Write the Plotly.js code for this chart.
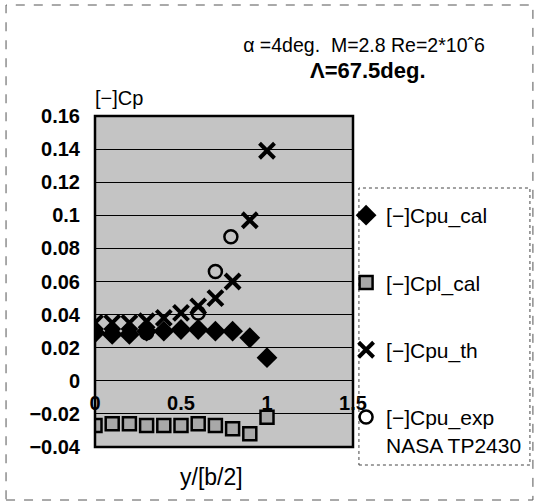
<!DOCTYPE html>
<html>
<head>
<meta charset="utf-8">
<script src="https://cdn.plot.ly/plotly-3.0.1.min.js"></script>
<style>html,body{margin:0;padding:0;background:#fff;}#chart{width:539px;height:503px;}</style>
</head>
<body>
<div id="chart"></div>
<script>
// ---- data ----
const xCal = [0, 0.1, 0.2, 0.3, 0.4, 0.5, 0.6, 0.7, 0.8, 0.9, 1.0];
const cpuCal = [0.029, 0.028, 0.028, 0.030, 0.030, 0.031, 0.031, 0.030, 0.030, 0.026, 0.014];
const xCpl = [0, 0.1, 0.2, 0.3, 0.4, 0.5, 0.6, 0.7, 0.8, 0.9, 1.0];
const cplCal = [-0.027, -0.026, -0.026, -0.027, -0.027, -0.027, -0.026, -0.027, -0.029, -0.032, -0.022];
const xTh = [0, 0.1, 0.2, 0.3, 0.4, 0.5, 0.6, 0.7, 0.8, 0.9, 1.0];
const cpuTh = [0.035, 0.035, 0.035, 0.036, 0.038, 0.041, 0.045, 0.050, 0.060, 0.097, 0.139];
const xExp = [0.3, 0.6, 0.7, 0.79];
const cpuExp = [0.029, 0.041, 0.066, 0.087];
const xTickVals = [0, 0.5, 1, 1.5];
const xTickText = ['0', '0.5', '1', '1.5'];
const yTickVals = [-0.04, -0.02, 0, 0.02, 0.04, 0.06, 0.08, 0.1, 0.12, 0.14, 0.16];
const yTickText = ['−0.04', '−0.02', '0', '0.02', '0.04', '0.06', '0.08', '0.1', '0.12', '0.14', '0.16'];
const names = ['[−]Cpu_cal', '[−]Cpl_cal', '[−]Cpu_th', '[−]Cpu_exp<br>NASA TP2430'];

const FONT = 'Liberation Sans, Arial, sans-serif';

const traces = [
  {x: xCal, y: cpuCal, name: names[0], legendgroup: 'a', mode: 'markers', type: 'scatter',
   marker: {symbol: 'diamond', size: 16, color: '#000'}},
  {x: xCpl, y: cplCal, name: names[1], legendgroup: 'b', mode: 'markers', type: 'scatter',
   marker: {symbol: 'square', size: 13, color: '#a8a8a8', line: {color: '#000', width: 2.5}}},
  {x: xTh, y: cpuTh, name: names[2], legendgroup: 'c', mode: 'markers', type: 'scatter',
   marker: {symbol: 'x-thin', size: 15, color: '#000', line: {color: '#000', width: 4}}},
  {x: xExp, y: cpuExp, name: names[3], legendgroup: 'd', mode: 'markers', type: 'scatter',
   marker: {symbol: 'circle-open', size: 13, color: '#000', line: {color: '#000', width: 2.5}}}
];

const layout = {
  width: 539, height: 503,
  margin: {l: 95, r: 183, t: 116, b: 56},
  paper_bgcolor: '#fff',
  plot_bgcolor: '#c4c4c4',
  font: {family: FONT, size: 15, color: '#000'},
  showlegend: true,
  title: {
    text: 'α =4deg.  M=2.8 Re=2*10ˆ6',
    xref: 'container', yref: 'container', x: 364 / 539, xanchor: 'center',
    y: 1 - 45 / 503, yanchor: 'middle',
    font: {family: FONT, size: 19.5, color: '#000'}
  },
  xaxis: {
    range: [0, 1.5], tickvals: xTickVals, ticktext: xTickText,
    anchor: 'free', position: 0.1, side: 'top',
    showgrid: false, zeroline: false, showline: false, ticks: '',
    tickfont: {family: FONT, size: 20, color: '#000', weight: 'bold'},
    fixedrange: true
  },
  yaxis: {
    range: [-0.04, 0.16], tickvals: yTickVals, ticktext: yTickText,
    showgrid: true, gridcolor: '#000', gridwidth: 1,
    zeroline: false, showline: false, ticks: '', ticklabelstandoff: 14,
    tickfont: {family: FONT, size: 20, color: '#000', weight: 'bold'},
    fixedrange: true
  },
  legend: {
    x: (349 - 95) / 261, xanchor: 'left', y: (447 - 195) / 331, yanchor: 'top',
    bgcolor: 'rgba(0,0,0,0)', borderwidth: 0,
    tracegroupgap: 37, valign: 'top',
    font: {family: FONT, size: 21, color: '#000'},
    itemwidth: 30
  },
  annotations: [
    {text: '<b>Λ=67.5deg.</b>', xref: 'paper', yref: 'paper', x: (371 - 95) / 261, y: (447 - 70) / 331,
     xanchor: 'center', yanchor: 'middle', showarrow: false,
     font: {family: FONT, size: 22, color: '#000'}},
    {text: '[−]Cp', xref: 'paper', yref: 'paper', x: -0.008, y: 1.0, xanchor: 'left', yanchor: 'bottom',
     yshift: 5, showarrow: false, font: {family: FONT, size: 20, color: '#000'}},
    {text: 'y/[b/2]', xref: 'paper', yref: 'paper', x: (213 - 95) / 261, y: 0, xanchor: 'center', yanchor: 'middle',
     yshift: -30, showarrow: false, font: {family: FONT, size: 23, color: '#000'}}
  ],
  shapes: [
    {type: 'rect', xref: 'paper', yref: 'paper', x0: 0, x1: 1, y0: 0, y1: 1,
     line: {color: '#000', width: 2.5}, fillcolor: 'rgba(0,0,0,0)', layer: 'above'},
    {type: 'rect', xref: 'paper', yref: 'paper',
     x0: (362 - 95) / 261, x1: (535 - 95) / 261, y0: (447 - 465) / 331, y1: (447 - 188) / 331,
     line: {color: '#444', width: 1, dash: 'dot'}, fillcolor: 'rgba(0,0,0,0)'},
    {type: 'rect', xref: 'paper', yref: 'paper',
     x0: (5 - 95) / 261, x1: (538 - 95) / 261, y0: (447 - 500) / 331, y1: (447 - 5) / 331,
     line: {color: '#555', width: 1, dash: 'dash'}, fillcolor: 'rgba(0,0,0,0)'}
  ]
};

Plotly.newPlot('chart', traces, layout, {displayModeBar: false, staticPlot: true});
</script>
</body>
</html>
